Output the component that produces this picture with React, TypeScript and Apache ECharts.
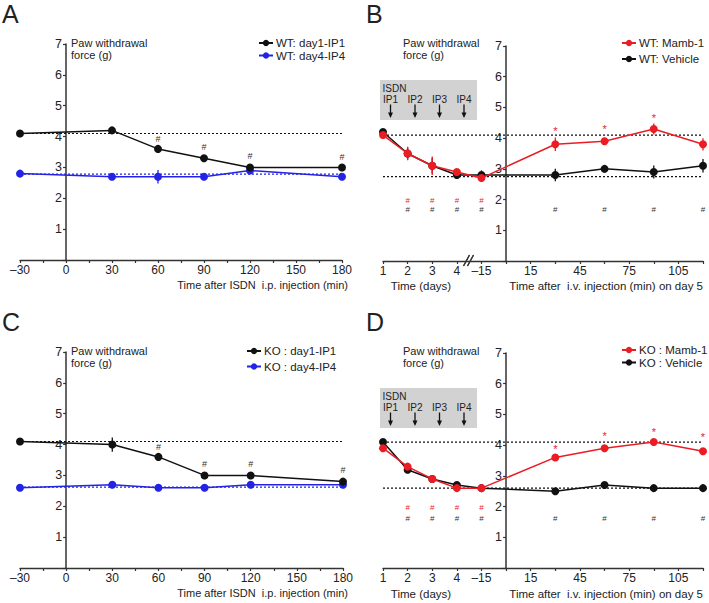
import React, { useEffect, useRef } from 'react';
import * as echarts from 'echarts';

const FONT = 'Liberation Sans, Arial, sans-serif';
const BLACK = '#111111';
const BLUE = '#2323e6';
const RED = '#ec1c24';
const AXIS = '#333333';

// ---------- Panels A / C : time after ISDN i.p. injection (min)
const ipTimes = [-30, 30, 60, 90, 120, 180];

const wtDay1 = [4.1, 4.2, 3.6, 3.3, 3.0, 3.0];
const wtDay1Err = [0, 0, 0, 0, 0, 0];
const wtDay4 = [2.8, 2.7, 2.7, 2.7, 2.9, 2.7];
const wtDay4Err = [0, 0, 0.22, 0, 0, 0];
const wtDay1Hash = [null, null, 3.92, 3.65, 3.38, 3.33];
const wtDay1Base = 4.1;
const wtDay4Base = 2.78;

const koDay1 = [4.1, 4.0, 3.6, 3.0, 3.0, 2.8];
const koDay1Err = [0, 0.23, 0, 0, 0, 0];
const koDay4 = [2.6, 2.7, 2.6, 2.6, 2.7, 2.7];
const koDay4Err = [0, 0, 0, 0, 0, 0];
const koDay1Hash = [null, null, 3.93, 3.36, 3.36, 3.16];
const koDay1Base = 4.1;
const koDay4Base = 2.62;

// ---------- Panels B / D : days 1-4, then minutes after i.v. injection on day 5
const dayPoints = [1, 2, 3, 4];
const minutePoints = [-15, 30, 60, 90, 120];
const dayToAxis = (d: number) => (d - 6) * 15; // day 1 -> -75 on the shared axis
const ivX = [...dayPoints.map(dayToAxis), ...minutePoints];

const wtMamb = [4.1, 3.5, 3.1, 2.9, 2.7, 3.8, 3.9, 4.3, 3.8];
const wtMambErr = [0.05, 0.22, 0.3, 0.06, 0.06, 0.22, 0.12, 0.18, 0.2];
const wtVeh = [4.2, 3.5, 3.1, 2.8, 2.8, 2.8, 3.0, 2.9, 3.1];
const wtVehErr = [0.04, 0.2, 0.25, 0.05, 0.15, 0.2, 0.05, 0.21, 0.22];
const wtMambHash = [null, 1.96, 1.96, 1.96, 1.96, null, null, null, null];
const wtVehHash = [null, 1.69, 1.69, 1.69, 1.69, 1.69, 1.69, 1.69, 1.69];
const wtMambStar = [null, null, null, null, null, 4.3, 4.35, 4.72, null];
const wtHighBase = 4.1;
const wtLowBase = 2.75;

const koMamb = [3.9, 3.3, 2.9, 2.6, 2.6, 3.6, 3.9, 4.1, 3.8];
const koMambErr = [0, 0, 0, 0, 0, 0, 0, 0, 0];
const koVeh = [4.1, 3.2, 2.9, 2.7, 2.6, 2.5, 2.7, 2.6, 2.6];
const koVehErr = [0, 0, 0, 0, 0, 0, 0, 0, 0];
const koMambHash = [null, 1.98, 1.98, 1.98, 1.98, null, null, null, null];
const koVehHash = [null, 1.6, 1.6, 1.6, 1.6, 1.6, 1.6, 1.6, 1.6];
const koMambStar = [null, null, null, null, null, 3.95, 4.36, 4.49, 4.33];
const koHighBase = 4.1;
const koLowBase = 2.6;

const ipLabels = ['IP1', 'IP2', 'IP3', 'IP4'];
const yTicks = { min: 0, max: 7, interval: 1 };

// grid boxes (layout)
const grids = [
  { left: 20, top: 44, width: 322, height: 216 },
  { left: 383, top: 46, width: 320, height: 215 },
  { left: 20, top: 352, width: 323, height: 216 },
  { left: 383, top: 353, width: 320, height: 215 },
];
const xRanges = [
  [-30, 180],
  [-75, 120],
  [-30, 180],
  [-75, 120],
];

// ---------- helpers
function lineSeries(name: string, idx: number, xs: number[], ys: number[], color: string, z = 3) {
  return {
    type: 'line',
    name,
    xAxisIndex: idx,
    yAxisIndex: idx,
    data: xs.map((x, i) => [x, ys[i]]),
    symbol: 'circle',
    symbolSize: 8,
    itemStyle: { color },
    lineStyle: { color, width: 1.5 },
    z,
  };
}

function baseline(idx: number, x0: number, x1: number, y: number, color: string) {
  return {
    type: 'line',
    name: 'base' + idx + '_' + y,
    xAxisIndex: idx,
    yAxisIndex: idx,
    data: [[x0, y], [x1, y]],
    symbol: 'none',
    lineStyle: { color, width: 1.2, type: [2, 2] },
    silent: true,
    z: 1,
  };
}

function errSeries(idx: number, xs: number[], ys: number[], errs: number[], color: string, z = 2) {
  const data = xs
    .map((x, i) => [x, ys[i] - errs[i], ys[i] + errs[i], errs[i]])
    .filter((d) => d[3] > 0);
  return {
    type: 'custom',
    name: 'err' + idx + color,
    xAxisIndex: idx,
    yAxisIndex: idx,
    data,
    encode: { x: 0, y: [1, 2] },
    silent: true,
    z,
    renderItem: (_p: any, api: any) => {
      const a = api.coord([api.value(0), api.value(1)]);
      const b = api.coord([api.value(0), api.value(2)]);
      return {
        type: 'line',
        shape: { x1: a[0], y1: a[1], x2: b[0], y2: b[1] },
        style: { stroke: color, lineWidth: 1.3 },
      };
    },
  };
}

function markSeries(idx: number, xs: number[], ys: (number | null)[], text: string, color: string, size: number, dy: number) {
  const data = xs.map((x, i) => (ys[i] == null ? null : [x, ys[i]])).filter((d) => d !== null);
  return {
    type: 'custom',
    name: 'mark' + idx + text + color,
    xAxisIndex: idx,
    yAxisIndex: idx,
    data,
    encode: { x: 0, y: 1 },
    silent: true,
    z: 5,
    renderItem: (_p: any, api: any) => {
      const p = api.coord([api.value(0), api.value(1)]);
      return {
        type: 'text',
        x: p[0],
        y: p[1] + dy,
        style: {
          text,
          fill: color,
          font: `${size}px ${FONT}`,
          align: 'center',
          verticalAlign: 'middle',
          textAlign: 'center',
          textVerticalAlign: 'middle',
        },
      };
    },
  };
}

function yAxis(gridIndex: number) {
  const g = grids[gridIndex];
  const [x0, x1] = xRanges[gridIndex];
  // put the y axis where x = 0
  const zeroOffset = ((0 - x0) / (x1 - x0)) * g.width;
  return {
    type: 'value',
    gridIndex,
    ...yTicks,
    position: 'left',
    offset: -zeroOffset,
    axisLine: { show: true, onZero: false, lineStyle: { color: AXIS, width: 1.5 } },
    axisTick: { show: true, length: 3, lineStyle: { color: AXIS, width: 1.2 } },
    axisLabel: {
      margin: 4,
      fontSize: 12.5,
      color: '#222',
      fontFamily: FONT,
      formatter: (v: number) => (v === 0 ? '' : String(v)),
    },
    splitLine: { show: false },
  };
}

function ipXAxis(gridIndex: number) {
  return {
    type: 'value',
    gridIndex,
    min: -30,
    max: 180,
    interval: 30,
    axisLine: { show: true, onZero: false, lineStyle: { color: AXIS, width: 1.3 } },
    axisTick: { show: true, length: 3, lineStyle: { color: AXIS, width: 1.2 } },
    minorTick: { show: true, splitNumber: 2, length: 3, lineStyle: { color: AXIS, width: 1.2 } },
    axisLabel: {
      margin: 4,
      fontSize: 12,
      color: '#222',
      fontFamily: FONT,
      showMinLabel: true,
      showMaxLabel: true,
      formatter: (v: number) => (v < 0 ? '–' + -v : String(v)),
    },
    splitLine: { show: false },
  };
}

function ivLabel(v: number) {
  if (v < -15) return String(v / 15 + 6);
  if (v === -15) return '–15';
  if (v > 0 && (v / 15) % 2 === 1) return String(v);
  return '';
}

function ivXAxis(gridIndex: number) {
  return {
    type: 'value',
    gridIndex,
    min: -75,
    max: 120,
    interval: 15,
    axisLine: { show: true, onZero: false, lineStyle: { color: AXIS, width: 1.3 } },
    axisTick: { show: true, length: 3, lineStyle: { color: AXIS, width: 1.2 } },
    axisLabel: {
      margin: 4,
      fontSize: 12,
      color: '#222',
      fontFamily: FONT,
      showMinLabel: true,
      showMaxLabel: true,
      formatter: ivLabel,
    },
    splitLine: { show: false },
  };
}

function legend(names: string[], left: number, top: number, gap: number) {
  return {
    data: names,
    left,
    top,
    orient: 'vertical',
    itemWidth: 14,
    itemHeight: 8,
    itemGap: gap,
    padding: 0,
    selectedMode: false,
    textStyle: { fontSize: 11.5, fontFamily: FONT, color: '#222', lineHeight: 11.5, padding: [0, 0, 0, -2] },
  };
}

function txt(x: number, y: number, text: string, size: number, align = 'left', extra: any = {}) {
  return {
    type: 'text',
    x,
    y,
    silent: true,
    style: {
      text,
      fill: '#222',
      font: `${size}px ${FONT}`,
      align,
      verticalAlign: 'middle',
      textAlign: align,
      textVerticalAlign: 'middle',
      ...extra,
    },
  };
}

function rowGraphics(dy: number, leftLetter: string, rightLetter: string, yBottomRight: number) {
  const arrowsX = [390.5, 415, 439.5, 464];
  const els: any[] = [
    txt(2, 14 + dy, leftLetter, 25),
    txt(366, 14 + dy, rightLetter, 25),
    txt(71, 43 + dy, 'Paw withdrawal', 11),
    txt(71, 54.5 + dy, 'force (g)', 11),
    txt(403, 43 + dy, 'Paw withdrawal', 11),
    txt(403, 54.5 + dy, 'force (g)', 11),
    txt(348, 285 + dy, 'Time after ISDN  i.p. injection (min)', 11, 'right'),
    txt(421, 286 + dy, 'Time (days)', 11.5, 'center'),
    txt(703, 286 + dy, 'Time after  i.v. injection (min) on day 5', 11.5, 'right'),
    {
      type: 'rect',
      shape: { x: 380, y: 80 + dy, width: 97, height: 40 },
      style: { fill: '#d2d2d2' },
      silent: true,
      z: 0,
    },
    txt(382.5, 88.5 + dy, 'ISDN', 10),
    // axis break
    {
      type: 'line',
      shape: { x1: 463.5, y1: yBottomRight + 5, x2: 469.5, y2: yBottomRight - 6 },
      style: { stroke: AXIS, lineWidth: 1.2 },
      silent: true,
    },
    {
      type: 'line',
      shape: { x1: 467.5, y1: yBottomRight + 5, x2: 473.5, y2: yBottomRight - 6 },
      style: { stroke: AXIS, lineWidth: 1.2 },
      silent: true,
    },
  ];
  arrowsX.forEach((x, i) => {
    els.push(txt(x, 99.5 + dy, ipLabels[i], 10, 'center'));
    els.push({
      type: 'line',
      shape: { x1: x, y1: 104.5 + dy, x2: x, y2: 114 + dy },
      style: { stroke: '#111', lineWidth: 1.3 },
      silent: true,
    });
    els.push({
      type: 'polygon',
      shape: { points: [[x - 2.5, 112.5 + dy], [x + 2.5, 112.5 + dy], [x, 118 + dy]] },
      style: { fill: '#111' },
      silent: true,
    });
  });
  return els;
}

function buildOption() {
  const series: any[] = [
    // Panel A
    baseline(0, -30, 180, wtDay1Base, BLACK),
    baseline(0, -30, 180, wtDay4Base, BLUE),
    errSeries(0, ipTimes, wtDay1, wtDay1Err, BLACK),
    errSeries(0, ipTimes, wtDay4, wtDay4Err, BLUE),
    lineSeries('WT: day4-IP4', 0, ipTimes, wtDay4, BLUE, 3),
    lineSeries('WT: day1-IP1', 0, ipTimes, wtDay1, BLACK, 4),
    markSeries(0, ipTimes, wtDay1Hash, '#', '#333', 9, 0),
    // Panel B
    baseline(1, -75, 120, wtHighBase, BLACK),
    baseline(1, -75, 120, wtLowBase, BLACK),
    errSeries(1, ivX, wtVeh, wtVehErr, BLACK),
    errSeries(1, ivX, wtMamb, wtMambErr, RED),
    lineSeries('WT: Vehicle', 1, ivX, wtVeh, BLACK, 3),
    lineSeries('WT: Mamb-1', 1, ivX, wtMamb, RED, 4),
    markSeries(1, ivX, wtMambHash, '#', RED, 8, 0),
    markSeries(1, ivX, wtVehHash, '#', '#333', 8, 0),
    markSeries(1, ivX, wtMambStar, '*', RED, 11, 2),
    // Panel C
    baseline(2, -30, 180, koDay1Base, BLACK),
    baseline(2, -30, 180, koDay4Base, BLUE),
    errSeries(2, ipTimes, koDay1, koDay1Err, BLACK),
    errSeries(2, ipTimes, koDay4, koDay4Err, BLUE),
    lineSeries('KO : day4-IP4', 2, ipTimes, koDay4, BLUE, 3),
    lineSeries('KO : day1-IP1', 2, ipTimes, koDay1, BLACK, 4),
    markSeries(2, ipTimes, koDay1Hash, '#', '#333', 9, 0),
    // Panel D
    baseline(3, -75, 120, koHighBase, BLACK),
    baseline(3, -75, 120, koLowBase, BLACK),
    errSeries(3, ivX, koVeh, koVehErr, BLACK),
    errSeries(3, ivX, koMamb, koMambErr, RED),
    lineSeries('KO : Vehicle', 3, ivX, koVeh, BLACK, 3),
    lineSeries('KO : Mamb-1', 3, ivX, koMamb, RED, 4),
    markSeries(3, ivX, koMambHash, '#', RED, 8, 0),
    markSeries(3, ivX, koVehHash, '#', '#333', 8, 0),
    markSeries(3, ivX, koMambStar, '*', RED, 11, 2),
  ];

  return {
    animation: false,
    backgroundColor: '#ffffff',
    textStyle: { fontFamily: FONT },
    grid: grids,
    xAxis: [ipXAxis(0), ivXAxis(1), ipXAxis(2), ivXAxis(3)],
    yAxis: [yAxis(0), yAxis(1), yAxis(2), yAxis(3)],
    legend: [
      legend(['WT: day1-IP1', 'WT: day4-IP4'], 258, 37, 0.5),
      legend(['WT: Mamb-1', 'WT: Vehicle'], 621, 37, 4),
      legend(['KO : day1-IP1', 'KO : day4-IP4'], 246, 345, 3.5),
      legend(['KO : Mamb-1', 'KO : Vehicle'], 621, 344, 0.5),
    ],
    graphic: { elements: [...rowGraphics(0, 'A', 'B', 261), ...rowGraphics(308, 'C', 'D', 261)] },
    series,
  };
}

export default function App() {
  const ref = useRef<HTMLDivElement>(null);
  useEffect(() => {
    document.body.style.margin = '0';
    const chart = echarts.init(ref.current as HTMLDivElement, null, { renderer: 'svg' });
    chart.setOption(buildOption() as any);
    return () => chart.dispose();
  }, []);
  return <div ref={ref} style={{ width: 709, height: 603 }} />;
}
